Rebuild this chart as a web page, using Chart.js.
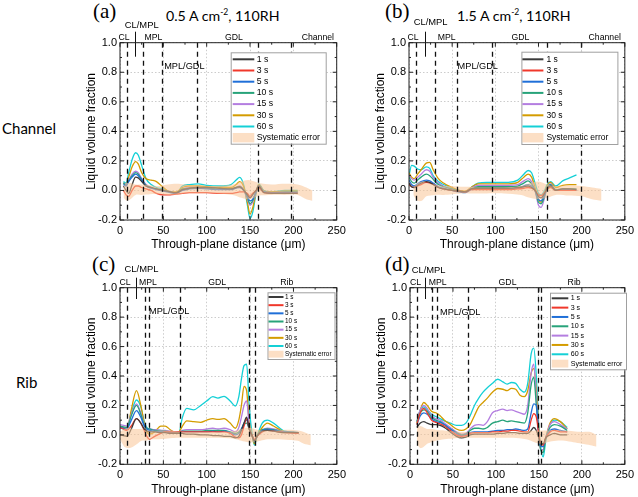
<!DOCTYPE html>
<html>
<head>
<meta charset="utf-8">
<script src="https://cdn.jsdelivr.net/npm/chart.js@4.4.1/dist/chart.umd.min.js"></script>
<style>
  html, body { margin: 0; padding: 0; background: #fff; }
  body { width: 638px; height: 497px; position: relative; overflow: hidden; }
  canvas { position: absolute; }
  .txt { position: absolute; white-space: nowrap; color: #000; line-height: 1; }
  .letter { font-family: "Liberation Serif", "DejaVu Serif", serif; font-size: 21px; }
  .title { font-family: Lato, "Noto Sans", sans-serif; font-size: 14.2px; }
  .title sup { font-size: 8.5px; vertical-align: 6px; }
  .row { font-family: Lato, "Noto Sans", sans-serif; font-size: 15px; }
</style>
</head>
<body>
<div class="txt row" style="left:2px;top:121px">Channel</div>
<div class="txt row" style="left:16px;top:375px">Rib</div>
<div class="txt letter" style="left:93px;top:1px">(a)</div>
<div class="txt letter" style="left:385px;top:1px">(b)</div>
<div class="txt letter" style="left:92px;top:254px">(c)</div>
<div class="txt letter" style="left:385px;top:254px">(d)</div>
<div class="txt title" style="left:166px;top:8px">0.5 A cm<sup>-2</sup>, 110RH</div>
<div class="txt title" style="left:457px;top:8px">1.5 A cm<sup>-2</sup>, 110RH</div>

<canvas id="pa" width="280" height="252" style="left:70px;top:0px"></canvas>
<canvas id="pb" width="279" height="252" style="left:359px;top:0px"></canvas>
<canvas id="pc" width="280" height="252" style="left:70px;top:245px"></canvas>
<canvas id="pd" width="278" height="252" style="left:360px;top:245px"></canvas>

<script>
const seriesLabels = ['1 s', '3 s', '5 s', '10 s', '15 s', '30 s', '60 s'];
const seriesColors = ['#3a3a3a', '#f0382b', '#1f6fd8', '#27a37a', '#b47ee0', '#d49c00', '#14d0d6'];
const bandColor = 'rgba(250, 196, 150, 0.55)';
const xTicks = { min: 0, max: 250, step: 50 };
const yTicks = { min: -0.2, max: 1.0, step: 0.2 };

// (a) channel, 0.5 A cm-2
const xA = [4, 7, 10, 14, 18, 21, 25, 30, 36, 42, 50, 58, 65, 72, 80, 90, 100, 115, 128, 134, 138, 143, 147, 150, 153, 157, 160, 166, 175, 190, 205];
const a1 = [0.03, 0.0, -0.02, 0.04, 0.09, 0.085, 0.06, 0.03, 0.02, 0.01, 0.0, -0.01, -0.015, 0.005, 0.015, 0.02, 0.02, 0.015, 0.01, 0.02, 0.025, 0.0, -0.03, -0.05, -0.03, 0.0, 0.03, -0.015, -0.02, -0.02, -0.02];
const a3 = [0.0, -0.03, -0.04, 0.0, 0.03, 0.03, 0.02, 0.01, 0.0, -0.02, -0.03, -0.03, -0.025, -0.02, -0.015, -0.015, -0.015, -0.02, -0.02, -0.015, -0.01, -0.01, -0.02, -0.04, -0.02, 0.0, 0.02, -0.015, -0.02, -0.02, -0.02];
const a5 = [0.04, 0.03, 0.06, 0.09, 0.11, 0.1, 0.07, 0.03, 0.015, 0.005, -0.005, -0.015, -0.02, 0.0, 0.01, 0.015, 0.01, 0.005, 0.005, 0.015, 0.02, 0.0, -0.04, -0.07, -0.06, -0.01, 0.03, -0.01, -0.015, -0.015, -0.015];
const a10 = [0.05, 0.035, 0.065, 0.1, 0.12, 0.11, 0.075, 0.035, 0.02, 0.01, 0.0, -0.01, -0.015, 0.01, 0.015, 0.02, 0.015, 0.01, 0.01, 0.02, 0.025, 0.0, -0.05, -0.09, -0.07, -0.01, 0.03, -0.01, -0.015, -0.01, -0.01];
const a15 = [0.05, 0.04, 0.07, 0.11, 0.13, 0.12, 0.08, 0.04, 0.02, 0.01, 0.0, -0.01, -0.015, 0.01, 0.02, 0.02, 0.015, 0.01, 0.01, 0.02, 0.03, 0.0, -0.06, -0.1, -0.08, -0.01, 0.035, -0.01, -0.015, -0.01, -0.01];
const a30 = [0.05, 0.04, 0.09, 0.16, 0.195, 0.18, 0.12, 0.08, 0.07, 0.06, 0.02, -0.01, -0.01, 0.02, 0.03, 0.03, 0.025, 0.02, 0.02, 0.04, 0.06, 0.02, -0.08, -0.16, -0.12, -0.01, 0.04, -0.005, -0.01, -0.005, -0.005];
const a60 = [0.06, 0.05, 0.12, 0.21, 0.255, 0.24, 0.17, 0.08, 0.04, 0.02, 0.01, -0.01, -0.02, 0.03, 0.04, 0.045, 0.035, 0.03, 0.04, 0.07, 0.088, 0.03, -0.1, -0.19, -0.15, -0.02, 0.045, 0.0, -0.01, 0.0, 0.0];
const bandXA = [4, 8, 12, 18, 25, 35, 45, 55, 65, 75, 90, 110, 130, 140, 148, 155, 160, 175, 190, 205, 215, 222];
const bandHiA = [0.03, 0.05, 0.05, 0.04, 0.04, 0.035, 0.03, 0.04, 0.045, 0.04, 0.035, 0.03, 0.04, 0.06, 0.07, 0.06, 0.05, 0.04, 0.045, 0.04, 0.02, 0.0];
const bandLoA = [-0.05, -0.07, -0.06, -0.03, -0.03, -0.025, -0.025, -0.03, -0.03, -0.02, -0.02, -0.02, -0.03, -0.05, -0.06, -0.05, -0.035, -0.03, -0.03, -0.03, -0.06, -0.07];
const boundsA = [8, 27, 49, 89, 159, 197];

// (b) channel, 1.5 A cm-2
const xB = [0, 3, 6, 10, 14, 20, 24, 28, 34, 40, 50, 58, 65, 72, 80, 90, 100, 115, 126, 133, 138, 142, 146, 150, 153, 157, 160, 164, 170, 178, 186, 194];
const b1 = [0.05, 0.025, 0.02, 0.035, 0.05, 0.06, 0.055, 0.04, 0.02, 0.01, 0.0, -0.005, -0.01, 0.01, 0.015, 0.015, 0.015, 0.015, 0.02, 0.025, 0.03, 0.02, 0.0, -0.04, -0.05, -0.02, 0.015, 0.03, 0.0, 0.01, 0.01, 0.005];
const b3 = [0.04, 0.025, 0.02, 0.03, 0.04, 0.055, 0.05, 0.04, 0.02, 0.01, 0.0, -0.005, -0.01, 0.005, 0.005, 0.005, 0.005, 0.005, 0.01, 0.015, 0.02, 0.015, 0.0, -0.03, -0.035, -0.015, 0.01, 0.02, 0.0, 0.0, 0.0, 0.0];
const b5 = [0.07, 0.04, 0.03, 0.045, 0.06, 0.07, 0.065, 0.05, 0.025, 0.015, 0.0, -0.01, -0.015, 0.005, 0.01, 0.01, 0.01, 0.01, 0.015, 0.03, 0.04, 0.03, 0.0, -0.06, -0.07, -0.03, 0.015, 0.035, 0.0, 0.005, 0.005, 0.0];
const b10 = [0.09, 0.06, 0.05, 0.07, 0.09, 0.11, 0.1, 0.075, 0.04, 0.025, 0.01, -0.005, -0.01, 0.01, 0.025, 0.025, 0.025, 0.025, 0.03, 0.05, 0.065, 0.045, 0.0, -0.08, -0.09, -0.04, 0.02, 0.04, 0.005, 0.01, 0.01, 0.01];
const b15 = [0.1, 0.08, 0.07, 0.09, 0.11, 0.14, 0.13, 0.09, 0.05, 0.03, 0.01, -0.005, -0.01, 0.015, 0.035, 0.035, 0.035, 0.035, 0.04, 0.065, 0.08, 0.06, 0.0, -0.1, -0.115, -0.05, 0.02, 0.045, 0.005, 0.01, 0.01, 0.01];
const b30 = [0.12, 0.09, 0.08, 0.11, 0.14, 0.185, 0.19, 0.14, 0.08, 0.05, 0.02, 0.0, -0.005, 0.02, 0.045, 0.045, 0.045, 0.045, 0.055, 0.09, 0.11, 0.09, 0.02, -0.06, -0.08, -0.03, 0.03, 0.055, 0.02, 0.035, 0.04, 0.04];
const b60 = [0.1, 0.17, 0.165, 0.145, 0.14, 0.16, 0.15, 0.1, 0.06, 0.04, 0.015, 0.0, -0.01, 0.02, 0.05, 0.055, 0.055, 0.055, 0.07, 0.11, 0.135, 0.12, 0.05, -0.02, -0.03, 0.0, 0.04, 0.06, 0.03, 0.065, 0.085, 0.105];
const bandXB = [5, 10, 15, 20, 30, 40, 50, 60, 70, 80, 90, 110, 130, 140, 150, 160, 170, 185, 200, 212, 223];
const bandHiB = [0.02, 0.05, 0.06, 0.05, 0.04, 0.03, 0.03, 0.025, 0.025, 0.02, 0.02, 0.02, 0.03, 0.05, 0.06, 0.04, 0.03, 0.035, 0.03, 0.02, 0.01];
const bandLoB = [-0.03, -0.07, -0.07, -0.04, -0.03, -0.03, -0.025, -0.02, -0.02, -0.02, -0.02, -0.02, -0.03, -0.05, -0.06, -0.05, -0.03, -0.035, -0.04, -0.06, -0.07];
const boundsB = [8, 30, 56, 96, 160, 199];

// (c) rib, 0.5 A cm-2
const xC = [0, 4, 8, 13, 19, 24, 28, 31, 34, 40, 47, 52, 58, 64, 68, 72, 77, 85, 93, 100, 107, 113, 120, 127, 133, 137, 140, 143, 146, 149, 152, 155, 158, 164, 170, 177, 190, 206];
const c1 = [0.0, -0.005, -0.01, 0.04, 0.11, 0.08, 0.04, 0.025, 0.02, 0.02, 0.015, 0.015, 0.01, 0.01, 0.01, 0.01, 0.005, 0.005, 0.0, 0.0, -0.005, -0.005, -0.01, -0.01, -0.02, -0.01, 0.03, 0.08, 0.12, 0.04, 0.0, -0.04, -0.01, 0.025, 0.03, 0.025, 0.015, 0.015];
const c3 = [0.05, 0.04, 0.03, 0.06, 0.11, 0.08, 0.03, -0.01, -0.03, -0.01, 0.01, 0.02, 0.02, 0.02, 0.02, 0.02, 0.02, 0.02, 0.02, 0.02, 0.02, 0.02, 0.02, 0.01, -0.015, -0.02, 0.0, 0.06, 0.11, 0.04, 0.0, -0.03, -0.01, 0.02, 0.03, 0.025, 0.015, 0.01];
const c5 = [0.05, 0.045, 0.04, 0.1, 0.165, 0.12, 0.06, 0.04, 0.03, 0.025, 0.02, 0.02, 0.015, 0.01, 0.01, 0.02, 0.02, 0.02, 0.02, 0.02, 0.025, 0.02, 0.025, 0.015, 0.0, 0.01, 0.04, 0.08, 0.1, 0.04, 0.0, -0.04, -0.01, 0.03, 0.035, 0.03, 0.02, 0.015];
const c10 = [0.06, 0.055, 0.05, 0.13, 0.2, 0.14, 0.065, 0.045, 0.04, 0.03, 0.025, 0.025, 0.02, 0.015, 0.015, 0.025, 0.025, 0.025, 0.025, 0.03, 0.03, 0.03, 0.03, 0.02, 0.01, 0.02, 0.04, 0.07, 0.08, 0.04, 0.0, -0.05, -0.01, 0.035, 0.04, 0.035, 0.02, 0.015];
const c15 = [0.07, 0.065, 0.06, 0.14, 0.21, 0.15, 0.07, 0.045, 0.04, 0.035, 0.03, 0.03, 0.025, 0.02, 0.02, 0.03, 0.035, 0.035, 0.035, 0.04, 0.045, 0.04, 0.045, 0.035, 0.02, 0.05, 0.12, 0.2, 0.23, 0.06, 0.0, -0.05, -0.01, 0.03, 0.045, 0.04, 0.02, 0.015];
const c30 = [0.06, 0.05, 0.04, 0.17, 0.3, 0.2, 0.08, 0.02, 0.005, 0.02, 0.06, 0.06, 0.035, 0.015, 0.02, 0.06, 0.095, 0.09, 0.085, 0.1, 0.11, 0.105, 0.11, 0.08, 0.045, 0.1, 0.2, 0.33, 0.3, 0.08, 0.0, -0.06, -0.01, 0.05, 0.08, 0.06, 0.02, 0.015];
const c60 = [0.055, 0.04, 0.04, 0.15, 0.237, 0.19, 0.09, 0.05, 0.04, 0.033, 0.03, 0.025, 0.022, 0.02, 0.02, 0.12, 0.18, 0.17, 0.2, 0.23, 0.26, 0.25, 0.262, 0.23, 0.196, 0.26, 0.38, 0.47, 0.48, 0.2, 0.02, -0.07, -0.01, 0.08, 0.1, 0.08, 0.025, 0.015];
const bandXC = [0, 5, 10, 15, 20, 25, 30, 35, 45, 55, 65, 75, 90, 110, 130, 140, 148, 155, 162, 170, 180, 195, 205, 212, 220];
const bandHiC = [0.02, 0.04, 0.05, 0.04, 0.04, 0.04, 0.03, 0.03, 0.03, 0.03, 0.025, 0.02, 0.02, 0.02, 0.025, 0.04, 0.05, 0.04, 0.03, 0.03, 0.03, 0.035, 0.03, 0.02, 0.0];
const bandLoC = [-0.03, -0.08, -0.09, -0.08, -0.06, -0.04, -0.04, -0.03, -0.03, -0.025, -0.02, -0.02, -0.02, -0.02, -0.025, -0.04, -0.05, -0.05, -0.04, -0.03, -0.03, -0.035, -0.04, -0.06, -0.07];
const boundsC = [8, 29, 33, 69, 149, 156];

// (d) rib, 1.5 A cm-2
const xD = [8, 12, 16, 20, 25, 30, 35, 40, 47, 54, 60, 65, 70, 75, 80, 85, 90, 96, 102, 108, 113, 118, 123, 128, 133, 137, 141, 144, 147, 150, 152, 155, 158, 163, 168, 175, 183];
const d1 = [0.05, 0.08, 0.09, 0.08, 0.07, 0.07, 0.065, 0.05, 0.02, -0.01, -0.02, -0.015, 0.0, 0.005, 0.005, 0.005, 0.005, 0.005, 0.01, 0.01, 0.015, 0.015, 0.015, 0.01, 0.01, 0.01, 0.03, 0.05, 0.03, -0.02, -0.06, -0.06, -0.02, 0.0, 0.01, 0.0, 0.0];
const d3 = [0.07, 0.15, 0.18, 0.15, 0.1, 0.085, 0.075, 0.06, 0.03, 0.0, -0.01, -0.005, 0.01, 0.015, 0.015, 0.015, 0.015, 0.02, 0.02, 0.025, 0.025, 0.03, 0.03, 0.025, 0.02, 0.02, 0.1, 0.145, 0.12, 0.0, -0.06, -0.07, -0.02, 0.02, 0.03, 0.02, 0.02];
const d5 = [0.07, 0.13, 0.15, 0.14, 0.11, 0.09, 0.085, 0.07, 0.04, 0.01, -0.005, 0.0, 0.015, 0.02, 0.02, 0.02, 0.02, 0.025, 0.03, 0.03, 0.035, 0.035, 0.04, 0.035, 0.03, 0.04, 0.15, 0.21, 0.2, 0.0, -0.08, -0.08, -0.02, 0.03, 0.04, 0.03, 0.02];
const d10 = [0.09, 0.15, 0.17, 0.16, 0.12, 0.1, 0.09, 0.07, 0.04, 0.015, 0.0, 0.005, 0.03, 0.045, 0.045, 0.04, 0.05, 0.08, 0.09, 0.1, 0.09, 0.095, 0.09, 0.085, 0.08, 0.15, 0.34, 0.39, 0.2, 0.0, -0.1, -0.12, -0.02, 0.05, 0.07, 0.06, 0.03];
const d15 = [0.09, 0.17, 0.2, 0.18, 0.13, 0.11, 0.1, 0.08, 0.05, 0.02, 0.005, 0.01, 0.04, 0.065, 0.07, 0.065, 0.09, 0.15, 0.165, 0.175, 0.165, 0.17, 0.16, 0.15, 0.14, 0.2, 0.42, 0.48, 0.25, 0.0, -0.1, -0.1, -0.02, 0.07, 0.09, 0.07, 0.04];
const d30 = [0.08, 0.17, 0.22, 0.2, 0.16, 0.15, 0.13, 0.1, 0.07, 0.04, 0.03, 0.04, 0.07, 0.13, 0.19, 0.22, 0.25, 0.29, 0.315, 0.31, 0.3, 0.316, 0.31, 0.27, 0.26, 0.3, 0.42, 0.45, 0.3, 0.03, -0.1, -0.1, -0.02, 0.08, 0.11, 0.09, 0.04];
const d60 = [0.09, 0.17, 0.19, 0.17, 0.14, 0.125, 0.11, 0.095, 0.08, 0.065, 0.065, 0.08, 0.13, 0.2, 0.25, 0.29, 0.32, 0.35, 0.378, 0.36, 0.345, 0.356, 0.35, 0.31, 0.29, 0.35, 0.55, 0.59, 0.4, 0.05, -0.08, -0.15, -0.04, 0.07, 0.1, 0.09, 0.05];
const bandXD = [8, 12, 16, 20, 25, 30, 40, 50, 60, 70, 80, 100, 120, 135, 145, 150, 155, 160, 170, 180, 190, 200, 210, 217];
const bandHiD = [0.05, 0.06, 0.05, 0.04, 0.04, 0.035, 0.03, 0.025, 0.02, 0.02, 0.02, 0.02, 0.02, 0.025, 0.03, 0.03, 0.03, 0.03, 0.035, 0.03, 0.025, 0.02, 0.02, 0.0];
const bandLoD = [-0.06, -0.09, -0.08, -0.06, -0.05, -0.04, -0.03, -0.025, -0.02, -0.02, -0.02, -0.02, -0.02, -0.03, -0.05, -0.06, -0.06, -0.05, -0.04, -0.04, -0.05, -0.06, -0.07, -0.08];
const boundsD = [8, 26, 31, 68, 149, 153];

const sansFont = '"Liberation Sans", Arial, sans-serif';

function decoPlugin(d) {
  return {
    id: 'deco',
    afterDatasetsDraw(chart) {
      const { ctx, chartArea: a, scales: { x, y } } = chart;
      const seg = (x0, y0, x1, y1) => { ctx.beginPath(); ctx.moveTo(x0, y0); ctx.lineTo(x1, y1); ctx.stroke(); };
      ctx.save();

      // layer boundaries
      ctx.strokeStyle = '#111';
      ctx.lineWidth = 1.3;
      ctx.setLineDash([5, 4]);
      d.bounds.forEach(v => {
        const px = Math.round(x.getPixelForValue(v)) + 0.5;
        seg(px, a.top, px, a.bottom);
      });
      ctx.setLineDash([]);
      ctx.lineWidth = 1;
      const cx = Math.round(x.getPixelForValue(d.clmp)) + 0.5;
      seg(cx, a.top - d.tick[0], cx, a.top + d.tick[1]);

      // frame and inward ticks
      ctx.strokeStyle = '#222';
      ctx.strokeRect(a.left, a.top, a.right - a.left, a.bottom - a.top);
      const yt = y.ticks.map(t => t.value);
      yt.forEach((v, i) => {
        const p = y.getPixelForValue(v);
        seg(a.left, p, a.left + 4, p); seg(a.right, p, a.right - 4, p);
        if (i < yt.length - 1) {
          const m = y.getPixelForValue((v + yt[i + 1]) / 2);
          seg(a.left, m, a.left + 2, m); seg(a.right, m, a.right - 2, m);
        }
      });
      const xt = x.ticks.map(t => t.value);
      xt.forEach((v, i) => {
        const p = x.getPixelForValue(v);
        seg(p, a.bottom, p, a.bottom - 4); seg(p, a.top, p, a.top + 4);
        if (i < xt.length - 1) {
          const m = x.getPixelForValue((v + xt[i + 1]) / 2);
          seg(m, a.bottom, m, a.bottom - 2); seg(m, a.top, m, a.top + 2);
        }
      });

      // region labels
      ctx.fillStyle = '#000';
      ctx.textBaseline = 'middle';
      d.labels.forEach(l => {
        ctx.font = `${l.size}px ${sansFont}`;
        ctx.textAlign = l.align || 'center';
        ctx.fillText(l.text, x.getPixelForValue(l.x), a.top + l.dy);
      });

      // legend
      const L = d.legend;
      const bx = a.left + L.x, by = a.top + L.y;
      ctx.fillStyle = '#fff';
      ctx.fillRect(bx, by, L.w, L.h);
      ctx.strokeStyle = '#a0a0a0';
      ctx.strokeRect(bx + 0.5, by + 0.5, L.w, L.h);
      ctx.font = `${L.font}px ${sansFont}`;
      ctx.textAlign = 'left';
      const series = chart.data.datasets.filter(ds => ds.isSeries);
      const band = chart.data.datasets.find(ds => ds.isBand);
      series.forEach((ds, i) => {
        const ry = by + L.row0 + i * L.rowH;
        ctx.strokeStyle = ds.borderColor;
        ctx.lineWidth = 2;
        seg(bx + L.s0, ry, bx + L.s1, ry);
        ctx.fillStyle = '#000';
        ctx.fillText(ds.label, bx + L.tx, ry);
      });
      const ry = by + L.row0 + series.length * L.rowH;
      ctx.fillStyle = band.backgroundColor;
      ctx.fillRect(bx + L.s0, ry - L.rowH * 0.42, L.s1 - L.s0, L.rowH * 0.84);
      ctx.fillStyle = '#000';
      ctx.fillText(band.label, bx + L.tx, ry);
      ctx.restore();
    }
  };
}

function makePanel(id, p) {
  const pts = (xs, ys) => xs.map((v, i) => ({ x: v, y: ys[i] }));
  const datasets = [
    { label: '', data: pts(p.bandX, p.bandLo), borderWidth: 0, pointRadius: 0, fill: false, tension: 0.3 },
    { label: 'Systematic error', isBand: true, data: pts(p.bandX, p.bandHi), borderWidth: 0, pointRadius: 0,
      backgroundColor: bandColor, fill: '-1', tension: 0.3 }
  ];
  p.series.forEach((vals, i) => {
    datasets.push({
      label: seriesLabels[i], isSeries: true, data: pts(p.x, vals),
      borderColor: seriesColors[i], borderWidth: 1.3, pointRadius: 0, fill: false,
      cubicInterpolationMode: 'monotone'
    });
  });

  new Chart(document.getElementById(id), {
    type: 'line',
    data: { datasets },
    options: {
      responsive: false,
      animation: false,
      devicePixelRatio: 1,
      layout: { padding: { top: 42.7, right: p.padRight, left: 0, bottom: 0 } },
      plugins: { legend: { display: false }, tooltip: { enabled: false } },
      scales: {
        x: {
          type: 'linear', min: xTicks.min, max: xTicks.max,
          ticks: { stepSize: xTicks.step, color: '#000', padding: 4, maxRotation: 0, font: { size: 11, family: sansFont } },
          grid: { color: 'rgba(0,0,0,0.2)', drawTicks: false },
          border: { display: false, dash: [1.5, 2] },
          title: { display: true, text: 'Through-plane distance (μm)', color: '#000',
                   font: { size: 12, family: sansFont }, padding: { top: 0, bottom: p.xTitlePad } },
          afterFit(s) { s.height = p.xH; }
        },
        y: {
          type: 'linear', min: yTicks.min, max: yTicks.max,
          ticks: { stepSize: yTicks.step, color: '#000', padding: 3, font: { size: 11, family: sansFont },
                   callback: v => (Math.abs(v) < 1e-9 ? 0 : v).toFixed(1) },
          grid: { color: 'rgba(0,0,0,0.2)', drawTicks: false },
          border: { display: false, dash: [1.5, 2] },
          title: { display: true, text: 'Liquid volume fraction', color: '#000',
                   font: { size: 12, family: sansFont }, padding: { top: 14.3, bottom: 0 } },
          afterFit(s) { s.width = 50; }
        }
      }
    },
    plugins: [decoPlugin(p.deco)]
  });
}

makePanel('pa', {
  x: xA, series: [a1, a3, a5, a10, a15, a30, a60],
  bandX: bandXA, bandHi: bandHiA, bandLo: bandLoA,
  padRight: 13.3, xH: 32, xTitlePad: 0,
  deco: {
    bounds: boundsA, clmp: 17.3, tick: [11, 14],
    labels: [
      { text: 'CL', x: 4.6, dy: -5, size: 8.7 },
      { text: 'CL/MPL', x: 25, dy: -17, size: 9.4 },
      { text: 'MPL', x: 38.5, dy: -5, size: 8.7 },
      { text: 'GDL', x: 131.5, dy: -5, size: 8.7 },
      { text: 'Channel', x: 209.6, dy: -5, size: 8.7, align: 'left' },
      { text: 'MPL/GDL', x: 51, dy: 24, size: 9.2, align: 'left' }
    ],
    legend: { x: 110.7, y: 9.6, w: 95, h: 91.4, row0: 7, rowH: 11.2, s0: 2, s1: 23.6, tx: 26, font: 8.7 }
  }
});

makePanel('pb', {
  x: xB, series: [b1, b3, b5, b10, b15, b30, b60],
  bandX: bandXB, bandHi: bandHiB, bandLo: bandLoB,
  padRight: 11.5, xH: 32, xTitlePad: 0,
  deco: {
    bounds: boundsB, clmp: 18, tick: [11, 14],
    labels: [
      { text: 'CL', x: 4.6, dy: -5, size: 8.7 },
      { text: 'CL/MPL', x: 25, dy: -20, size: 9.4 },
      { text: 'MPL', x: 43.7, dy: -5, size: 8.7 },
      { text: 'GDL', x: 129, dy: -5, size: 8.7 },
      { text: 'Channel', x: 208, dy: -5, size: 8.7, align: 'left' },
      { text: 'MPL/GDL', x: 56.3, dy: 24, size: 9.2, align: 'left' }
    ],
    legend: { x: 112.4, y: 9, w: 96, h: 92.3, row0: 7.6, rowH: 11.2, s0: 1, s1: 22, tx: 25, font: 8.5 }
  }
});

makePanel('pc', {
  x: xC, series: [c1, c3, c5, c10, c15, c30, c60],
  bandX: bandXC, bandHi: bandHiC, bandLo: bandLoC,
  padRight: 11.25, xH: 32.7, xTitlePad: 0.5,
  deco: {
    bounds: boundsC, clmp: 18.3, tick: [10, 11.3],
    labels: [
      { text: 'CL', x: 5.7, dy: -5.4, size: 8.7 },
      { text: 'CL/MPL', x: 24.8, dy: -18.4, size: 9.4 },
      { text: 'MPL', x: 32.3, dy: -5.4, size: 8.7 },
      { text: 'GDL', x: 112, dy: -5.4, size: 8.7 },
      { text: 'Rib', x: 192.3, dy: -5.4, size: 8.7 },
      { text: 'MPL/GDL', x: 33.5, dy: 24, size: 9.2, align: 'left' }
    ],
    legend: { x: 147.5, y: 4.6, w: 67, h: 66.7, row0: 4.7, rowH: 8.17, s0: 1, s1: 16, tx: 17.5, font: 6.4 }
  }
});

makePanel('pd', {
  x: xD, series: [d1, d3, d5, d10, d15, d30, d60],
  bandX: bandXD, bandHi: bandHiD, bandLo: bandLoD,
  padRight: 9.25, xH: 32.7, xTitlePad: 0.5,
  deco: {
    bounds: boundsD, clmp: 17, tick: [10, 11.3],
    labels: [
      { text: 'CL', x: 6.5, dy: -5.4, size: 8.7 },
      { text: 'CL/MPL', x: 21.7, dy: -17.7, size: 9.4 },
      { text: 'MPL', x: 32.3, dy: -5.4, size: 8.7 },
      { text: 'GDL', x: 113.5, dy: -5.4, size: 8.7 },
      { text: 'Rib', x: 191, dy: -5.4, size: 8.7 },
      { text: 'MPL/GDL', x: 35, dy: 25, size: 9.2, align: 'left' }
    ],
    legend: { x: 140, y: 5, w: 76, h: 76.6, row0: 5.6, rowH: 9.33, s0: 1.7, s1: 18.3, tx: 20.7, font: 7.1 }
  }
});
</script>
</body>
</html>
